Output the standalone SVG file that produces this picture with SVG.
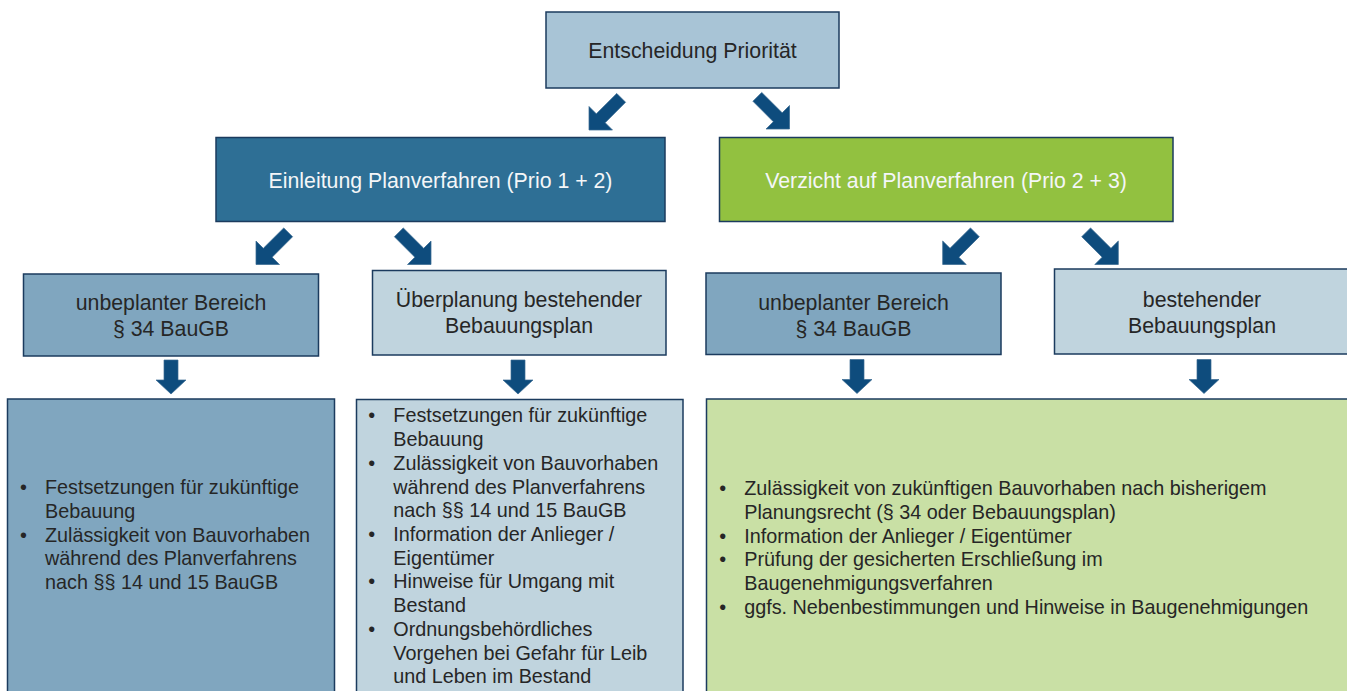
<svg xmlns="http://www.w3.org/2000/svg" xmlns:xlink="http://www.w3.org/1999/xlink" width="1347" height="691" viewBox="0 0 1347 691">
<style>
  .box { stroke: #1B3B5E; stroke-width: 1.5; }
  .top { fill: #A8C4D6; }
  .blue { fill: #2E6F95; }
  .green { fill: #92C140; }
  .mid { fill: #80A6BF; }
  .light { fill: #C0D4DE; }
  .lgreen { fill: #C9E0A5; }
  .h { font-family: "Liberation Sans", Arial, sans-serif; font-size: 21.3px; fill: #262626; text-anchor: middle; }
  .hw { fill: #F4F6F8; }
  .b { font-family: "Liberation Sans", Arial, sans-serif; font-size: 19.8px; fill: #262626; }
  .bul { text-anchor: middle; }
  .arr { fill: #0E4C7D; stroke: #3A6A92; stroke-width: 0.7; }
</style>
<defs>
  <polygon id="diag" points="0,0 -16.6,-16.6 -16.6,-6.25 -45.5,-6.25 -45.5,6.25 -16.6,6.25 -16.6,16.6"/>
  <polygon id="down" points="-7,0 7,0 7,20 15,20 0,34 -15,20 -7,20"/>
</defs>
<rect width="1347" height="691" fill="#FFFFFF"/>

<g id="node-entscheidung">
  <rect class="box top" x="546" y="12" width="293" height="76"/>
  <text class="h" x="692.5" y="58.3">Entscheidung Priorität</text>
</g>

<g id="node-einleitung">
  <rect class="box blue" x="216" y="137.5" width="449" height="84"/>
  <text class="h hw" x="440.5" y="188.3">Einleitung Planverfahren (Prio 1 + 2)</text>
</g>

<g id="node-verzicht">
  <rect class="box green" x="719.5" y="137.5" width="453.5" height="84"/>
  <text class="h hw" x="946" y="188.3">Verzicht auf Planverfahren (Prio 2 + 3)</text>
</g>

<g id="node-unbeplant-1">
  <rect class="box mid" x="23.5" y="274" width="295" height="82"/>
  <text class="h" x="171" y="310">unbeplanter Bereich</text>
  <text class="h" x="171" y="335.7">§ 34 BauGB</text>
</g>

<g id="node-ueberplanung">
  <rect class="box light" x="372.5" y="270.5" width="293.5" height="84.5"/>
  <text class="h" x="519" y="306.7">Überplanung bestehender</text>
  <text class="h" x="519" y="332.7">Bebauungsplan</text>
</g>

<g id="node-unbeplant-2">
  <rect class="box mid" x="706" y="273" width="295" height="81.5"/>
  <text class="h" x="853.5" y="310">unbeplanter Bereich</text>
  <text class="h" x="853.5" y="335.7">§ 34 BauGB</text>
</g>

<g id="node-bestehend">
  <rect class="box light" x="1054.5" y="269" width="296" height="85"/>
  <text class="h" x="1202" y="306.7">bestehender</text>
  <text class="h" x="1202" y="332.7">Bebauungsplan</text>
</g>

<g id="node-list-1">
  <rect class="box mid" x="7.5" y="399" width="327" height="300"/>
  <g class="b">
    <text class="bul" x="23.5" y="494.3">•</text>
    <text x="45" y="494.3">Festsetzungen für zukünftige</text>
    <text x="45" y="517.9">Bebauung</text>
    <text class="bul" x="23.5" y="541.5">•</text>
    <text x="45" y="541.5">Zulässigkeit von Bauvorhaben</text>
    <text x="45" y="565.1">während des Planverfahrens</text>
    <text x="45" y="588.7">nach §§ 14 und 15 BauGB</text>
  </g>
</g>

<g id="node-list-2">
  <rect class="box light" x="356.5" y="399.5" width="326.5" height="300"/>
  <g class="b">
    <text class="bul" x="371.7" y="422.3">•</text>
    <text x="393.3" y="422.3">Festsetzungen für zukünftige</text>
    <text x="393.3" y="446">Bebauung</text>
    <text class="bul" x="371.7" y="469.8">•</text>
    <text x="393.3" y="469.8">Zulässigkeit von Bauvorhaben</text>
    <text x="393.3" y="493.5">während des Planverfahrens</text>
    <text x="393.3" y="517.2">nach §§ 14 und 15 BauGB</text>
    <text class="bul" x="371.7" y="541">•</text>
    <text x="393.3" y="541">Information der Anlieger /</text>
    <text x="393.3" y="564.7">Eigentümer</text>
    <text class="bul" x="371.7" y="588.4">•</text>
    <text x="393.3" y="588.4">Hinweise für Umgang mit</text>
    <text x="393.3" y="612.1">Bestand</text>
    <text class="bul" x="371.7" y="635.9">•</text>
    <text x="393.3" y="635.9">Ordnungsbehördliches</text>
    <text x="393.3" y="659.6">Vorgehen bei Gefahr für Leib</text>
    <text x="393.3" y="683.3">und Leben im Bestand</text>
  </g>
</g>

<g id="node-list-3">
  <rect class="box lgreen" x="706.5" y="399" width="650" height="300"/>
  <g class="b">
    <text class="bul" x="722.7" y="495">•</text>
    <text x="744.2" y="495">Zulässigkeit von zukünftigen Bauvorhaben nach bisherigem</text>
    <text x="744.2" y="518.8">Planungsrecht (§ 34 oder Bebauungsplan)</text>
    <text class="bul" x="722.7" y="542.6">•</text>
    <text x="744.2" y="542.6">Information der Anlieger / Eigentümer</text>
    <text class="bul" x="722.7" y="566.4">•</text>
    <text x="744.2" y="566.4">Prüfung der gesicherten Erschließung im</text>
    <text x="744.2" y="590.2">Baugenehmigungsverfahren</text>
    <text class="bul" x="722.7" y="614">•</text>
    <text x="744.2" y="614">ggfs. Nebenbestimmungen und Hinweise in Baugenehmigungen</text>
  </g>
</g>

<g id="connectors">
  <use xlink:href="#diag" href="#diag" class="arr" transform="translate(589,130) rotate(135)"/>
  <use xlink:href="#diag" href="#diag" class="arr" transform="translate(789.5,129) rotate(45)"/>
  <use xlink:href="#diag" href="#diag" class="arr" transform="translate(256,264.5) rotate(135)"/>
  <use xlink:href="#diag" href="#diag" class="arr" transform="translate(431,264.5) rotate(45)"/>
  <use xlink:href="#diag" href="#diag" class="arr" transform="translate(942.7,264.5) rotate(135)"/>
  <use xlink:href="#diag" href="#diag" class="arr" transform="translate(1118.3,264.5) rotate(45)"/>
  <use xlink:href="#down" href="#down" class="arr" transform="translate(171,360)"/>
  <use xlink:href="#down" href="#down" class="arr" transform="translate(518,360)"/>
  <use xlink:href="#down" href="#down" class="arr" transform="translate(857,359.5)"/>
  <use xlink:href="#down" href="#down" class="arr" transform="translate(1204,359.5)"/>
</g>
</svg>
